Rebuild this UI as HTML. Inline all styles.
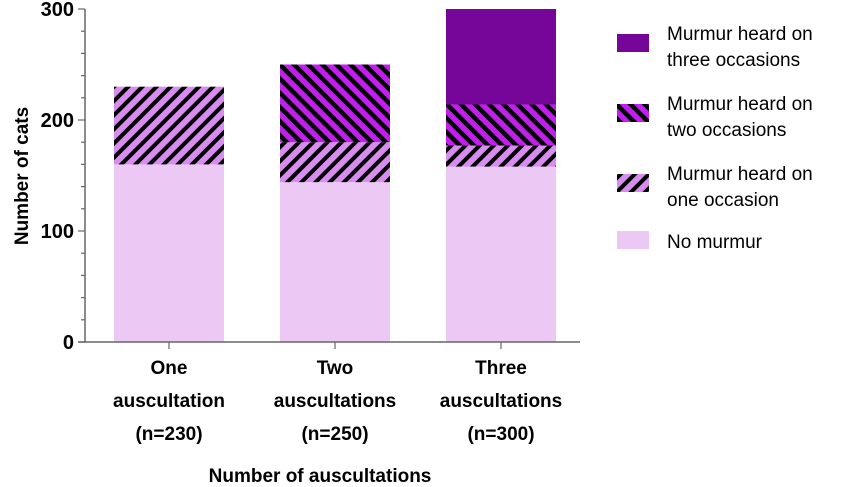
<!DOCTYPE html>
<html><head><meta charset="utf-8"><style>
html,body{margin:0;padding:0;background:#fff;}
svg{display:block;font-family:"Liberation Sans",sans-serif;}
</style></head><body>
<svg id="chart" width="850" height="487" viewBox="0 0 850 487">
<defs>
<pattern id="hatchOne" patternUnits="userSpaceOnUse" width="10" height="10" patternTransform="rotate(45)">
<rect width="10" height="10" fill="#d88cf0"/><rect width="4" height="10" fill="#000"/>
</pattern>
<pattern id="hatchTwo" patternUnits="userSpaceOnUse" width="10" height="10" patternTransform="rotate(-45)">
<rect width="10" height="10" fill="#c21ef0"/><rect width="4.5" height="10" fill="#000"/>
</pattern>
</defs>
<g id="bars"></g>
<g id="axes"></g>
<text x="28" y="176" transform="rotate(-90 28 176)" text-anchor="middle" font-size="19" font-weight="bold">Number of cats</text>
<text x="320" y="482" text-anchor="middle" font-size="19" font-weight="bold">Number of auscultations</text>
<g>
<rect x="617" y="34" width="32" height="18" fill="#76069a"/>
<text x="667" y="40" font-size="19"><tspan x="667">Murmur heard on</tspan><tspan x="667" dy="26">three occasions</tspan></text>
<rect x="617" y="104" width="32" height="18" fill="url(#hatchTwo)"/>
<text x="667" y="110" font-size="19"><tspan x="667">Murmur heard on</tspan><tspan x="667" dy="26">two occasions</tspan></text>
<rect x="617" y="174" width="32" height="18" fill="url(#hatchOne)"/>
<text x="667" y="180" font-size="19"><tspan x="667">Murmur heard on</tspan><tspan x="667" dy="26">one occasion</tspan></text>
<rect x="617" y="231" width="32" height="18" fill="#ecc9f5"/>
<text x="667" y="248" font-size="19">No murmur</text>
</g>
</svg>
<script>
const categories = ["One auscultation", "Two auscultations", "Three auscultations"];
const catLine1 = ["One", "Two", "Three"];
const catLine2 = ["auscultation", "auscultations", "auscultations"];
const catLine3 = ["(n=230)", "(n=250)", "(n=300)"];
const noMurmur = [160, 144, 158];
const oneOccasion = [70, 36, 19];
const twoOccasions = [0, 70, 37];
const threeOccasions = [0, 0, 86];
const yTicks = [0, 100, 200, 300];
const yTickLabels = ["0", "100", "200", "300"];

const NS = "http://www.w3.org/2000/svg";
const x0 = 85, y0 = 342, yTop = 9, yMax = 300;
const yScale = v => y0 - v / yMax * (y0 - yTop);
const barW = 110, step = 166, firstC = 169;
const xCenter = i => firstC + i * step;
function mk(tag, attrs, parent) {
  const e = document.createElementNS(NS, tag);
  for (const k in attrs) e.setAttribute(k, attrs[k]);
  parent.appendChild(e);
  return e;
}
const bars = document.getElementById("bars");
const series = [
  {vals: noMurmur, fill: "#ecc9f5", name: "none"},
  {vals: oneOccasion, fill: "url(#hatchOne)", name: "one"},
  {vals: twoOccasions, fill: "url(#hatchTwo)", name: "two"},
  {vals: threeOccasions, fill: "#76069a", name: "three"}
];
categories.forEach((c, i) => {
  let cum = 0;
  series.forEach(s => {
    const v = s.vals[i];
    if (v <= 0) return;
    const yt = yScale(cum + v), yb = yScale(cum);
    const r = mk("rect", {x: xCenter(i) - barW / 2, y: yt, width: barW, height: yb - yt, fill: s.fill}, bars);
    
    
    cum += v;
  });
});
const axes = document.getElementById("axes");
const ya = mk("line", {x1: x0, y1: yTop, x2: x0, y2: y0, stroke: "#666", "stroke-width": 1.5}, axes);


const xa = mk("line", {x1: x0 - 7, y1: y0, x2: 580, y2: y0, stroke: "#666", "stroke-width": 1.5}, axes);


for (let v = 0; v <= yMax; v += 20) {
  const major = yTicks.indexOf(v) >= 0;
  const t = mk("line", {x1: x0 - (major ? 7 : 4), y1: yScale(v), x2: x0, y2: yScale(v), stroke: "#666", "stroke-width": 1.2}, axes);
  
  
}
yTicks.forEach((v, k) => {
  const t = mk("text", {x: x0 - 11, y: yScale(v) + 7, "text-anchor": "end", "font-size": 20, "font-weight": "bold"}, axes);
  t.textContent = yTickLabels[k];
  
  
});
categories.forEach((c, i) => {
  const t = mk("line", {x1: xCenter(i), y1: y0, x2: xCenter(i), y2: y0 + 7, stroke: "#666", "stroke-width": 1.2}, axes);
  
  
  [catLine1, catLine2, catLine3].forEach((arr, j) => {
    const l = mk("text", {x: xCenter(i), y: 374 + j * 33, "text-anchor": "middle", "font-size": 19, "font-weight": "bold"}, axes);
    l.textContent = arr[i];
    
    
  });
});
</script>
</body></html>
